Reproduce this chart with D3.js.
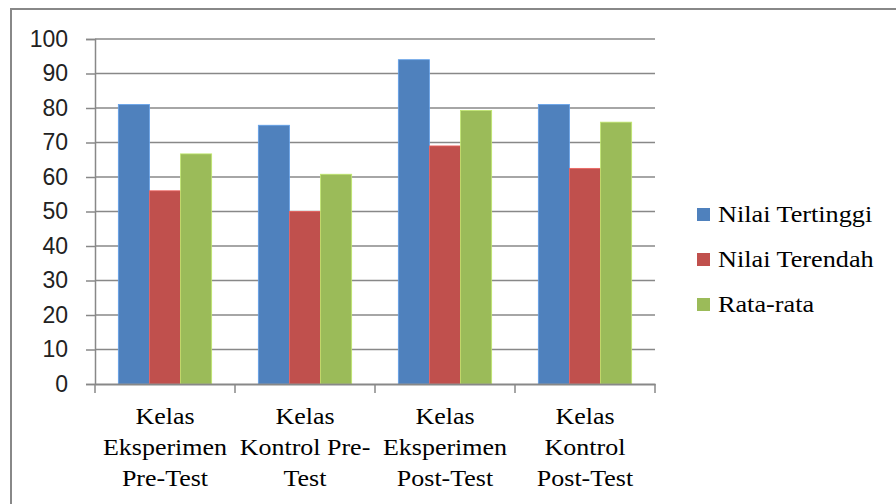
<!DOCTYPE html>
<html>
<head>
<meta charset="utf-8">
<script src="https://cdn.jsdelivr.net/npm/d3@7/dist/d3.min.js"></script>
<style>
  html, body { margin: 0; padding: 0; background: #fff; }
  svg { display: block; }
  .serif { font-family: "Liberation Serif", Tinos, "Times New Roman", Times, "DejaVu Serif", serif; }
</style>
</head>
<body>
<svg id="chart" width="896" height="504"></svg>
<script>
// Category labels (each entry is split into its display lines)
const categories = [
  ["Kelas", "Eksperimen", "Pre-Test"],
  ["Kelas", "Kontrol Pre-", "Test"],
  ["Kelas", "Eksperimen", "Post-Test"],
  ["Kelas", "Kontrol", "Post-Test"]
];
const seriesNames = ["Nilai Tertinggi", "Nilai Terendah", "Rata-rata"];
const nilaiTertinggi = [81, 75, 94, 81];
const nilaiTerendah = [56, 50, 69, 62.5];
const rataRata = [66.7, 60.8, 79.3, 75.9];
const yTicks = [0, 10, 20, 30, 40, 50, 60, 70, 80, 90, 100];
const colors = ["#4F81BD", "#C0504D", "#9BBB59"];

const series = [nilaiTertinggi, nilaiTerendah, rataRata];
const svg = d3.select("#chart");
const gridColor = "#888888";

// outer chart frame
svg.append("rect")
  .attr("x", 11).attr("y", 9)
  .attr("width", 900).attr("height", 520)
  .attr("fill", "#fff")
  .attr("stroke", gridColor).attr("stroke-width", 2);

const plot = { left: 95, right: 655, top: 39, bottom: 384 };

const x0 = d3.scaleBand()
  .domain(d3.range(categories.length))
  .range([plot.left, plot.right])
  .paddingInner(0).paddingOuter(0);

// bar width: three bars with a 150% gap between groups
const bw = x0.bandwidth() / 4.5;
const x1 = d3.scaleBand()
  .domain(d3.range(series.length))
  .range([0.75 * bw, 0.75 * bw + 3 * bw])
  .padding(0);

const y = d3.scaleLinear().domain([0, 100]).range([plot.bottom, plot.top]);

// horizontal gridlines
svg.append("g")
  .selectAll("line")
  .data(yTicks.filter(t => t > 0))
  .join("line")
  .attr("x1", plot.left).attr("x2", plot.right)
  .attr("y1", d => y(d)).attr("y2", d => y(d))
  .attr("stroke", gridColor).attr("stroke-width", 1.5);

// bars
const groups = svg.append("g")
  .selectAll("g")
  .data(categories.map((c, i) => i))
  .join("g")
  .attr("transform", i => `translate(${x0(i)},0)`);

groups.selectAll("rect")
  .data(i => series.map((s, k) => ({ k, v: s[i] })))
  .join("rect")
  .attr("x", d => x1(d.k))
  .attr("width", x1.bandwidth())
  .attr("y", d => y(d.v))
  .attr("height", d => y(0) - y(d.v))
  .attr("fill", d => colors[d.k])
  .attr("stroke", d => d3.color(colors[d.k]).brighter(0.6))
  .attr("stroke-width", 0.8);

// y axis
const yAxis = d3.axisLeft(y)
  .tickValues(yTicks)
  .tickSize(9)
  .tickPadding(18)
  .tickFormat(d3.format("d"));

const gy = svg.append("g")
  .attr("transform", `translate(${plot.left},0)`)
  .call(yAxis);
gy.select(".domain").attr("stroke", gridColor).attr("stroke-width", 1.5);
gy.selectAll(".tick line").attr("stroke", gridColor).attr("stroke-width", 1.5);
gy.selectAll(".tick text")
  .attr("fill", "#222")
  .attr("font-family", "'Liberation Sans', Arial, sans-serif")
  .attr("font-size", 23);

// x axis
const xAxis = d3.axisBottom(x0).tickValues([]).tickSizeOuter(0);
const gx = svg.append("g")
  .attr("transform", `translate(0,${plot.bottom})`)
  .call(xAxis);
gx.select(".domain").attr("stroke", gridColor).attr("stroke-width", 2);

// category separators on the x axis
gx.selectAll("line.sep")
  .data(d3.range(categories.length + 1))
  .join("line")
  .attr("class", "sep")
  .attr("x1", i => plot.left + i * x0.step())
  .attr("x2", i => plot.left + i * x0.step())
  .attr("y1", 0).attr("y2", 9)
  .attr("stroke", gridColor).attr("stroke-width", 1.5);

// category labels
const catLabels = svg.append("g");
categories.forEach((lines, i) => {
  const cx = x0(i) + x0.bandwidth() / 2;
  const t = catLabels.append("text")
    .attr("class", "serif")
    .attr("transform", `translate(${cx},0) scale(1.13,1)`)
    .attr("text-anchor", "middle")
    .attr("fill", "#000")
    .attr("font-size", 23);
  lines.forEach((ln, j) => {
    t.append("tspan").attr("x", 0).attr("y", 424 + j * 31).text(ln);
  });
});

// legend
const legend = svg.append("g");
seriesNames.forEach((name, k) => {
  const cy = 215 + k * 45;
  legend.append("rect")
    .attr("x", 697).attr("y", cy - 7)
    .attr("width", 13).attr("height", 13)
    .attr("fill", colors[k]);
  legend.append("text")
    .attr("class", "serif")
    .attr("transform", `translate(718,${cy + 7}) scale(1.14,1)`)
    .attr("fill", "#000")
    .attr("font-size", 23)
    .text(name);
});
</script>
</body>
</html>
